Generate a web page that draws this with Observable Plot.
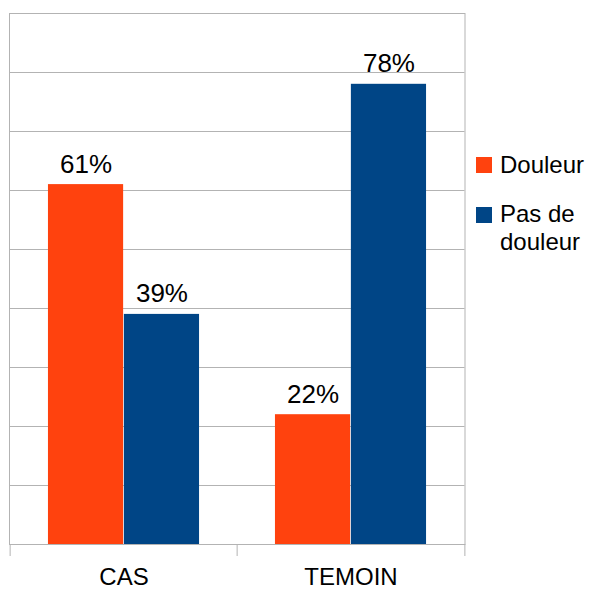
<!DOCTYPE html>
<html>
<head>
<meta charset="utf-8">
<script src="https://cdn.jsdelivr.net/npm/d3@7"></script>
<script src="https://cdn.jsdelivr.net/npm/@observablehq/plot@0.6"></script>
<style>
  html, body { margin: 0; padding: 0; background: #fff; }
  #wrap { position: relative; width: 589px; height: 589px; font-family: "Liberation Sans", Arial, sans-serif; }
  #chart { position: absolute; left: 0; top: 0; }
  .sw { position: absolute; width: 16px; height: 16px; }
  .lt { position: absolute; font-size: 24px; line-height: 28px; color: #000; white-space: nowrap; }
</style>
</head>
<body>
<div id="wrap"><div id="chart"></div></div>
<script>
const categories = ["CAS", "TEMOIN"];
const series = ["Douleur", "Pas de douleur"];
const douleur = [0.61, 0.22];
const pasDouleur = [0.39, 0.78];
const labelsDouleur = ["61%", "22%"];
const labelsPas = ["39%", "78%"];
const gridTicks = [0.1, 0.2, 0.3, 0.4, 0.5, 0.6, 0.7, 0.8];
const colors = ["#FF420E", "#004586"];

const rowsD = categories.map((c, i) => ({cat: c, value: douleur[i], label: labelsDouleur[i]}));
const rowsP = categories.map((c, i) => ({cat: c, value: pasDouleur[i], label: labelsPas[i]}));

const W = 470, H = 589, mL = 9, mR = 5.5, mT = 13, mB = 45;
const bw = (W - mL - mR) / categories.length;
const grid = "#b3b3b3";

const plot = Plot.plot({
  width: W,
  height: H,
  marginLeft: mL,
  marginRight: mR,
  marginTop: mT,
  marginBottom: mB,
  style: {fontFamily: "Liberation Sans, Arial, sans-serif", fontSize: "24px", color: "#000", background: "#fff"},
  x: {domain: categories, padding: 0, tickSize: 0, tickPadding: 23, label: null},
  y: {domain: [0, 0.9], axis: null},
  marks: [
    Plot.ruleY(gridTicks, {stroke: grid, strokeWidth: 1}),
    Plot.barY(rowsD, {x: "cat", y: "value", fill: colors[0], insetLeft: bw / 6, insetRight: bw / 2}),
    Plot.barY(rowsP, {x: "cat", y: "value", fill: colors[1], insetLeft: bw / 2, insetRight: bw / 6}),
    Plot.frame({stroke: grid, strokeWidth: 1}),
    Plot.ruleX(categories, {x: d => d, dx: -bw / 2, y1: 0, y2: 0, insetBottom: -12, stroke: grid}),
    Plot.ruleX(categories.slice(-1), {x: d => d, dx: bw / 2, y1: 0, y2: 0, insetBottom: -12, stroke: grid}),
    Plot.text(rowsD, {x: "cat", y: "value", text: "label", dx: -bw / 6, dy: -12, lineAnchor: "bottom", fontSize: 26, fill: "#000"}),
    Plot.text(rowsP, {x: "cat", y: "value", text: "label", dx: bw / 6, dy: -12, lineAnchor: "bottom", fontSize: 26, fill: "#000"})
  ]
});
document.getElementById("chart").appendChild(plot);

// Legend (HTML, right of the SVG)
const wrap = document.getElementById("wrap");
const legendItems = [
  {name: series[0], lines: ["Douleur"], color: colors[0], swTop: 157, textTop: 151},
  {name: series[1], lines: ["Pas de", "douleur"], color: colors[1], swTop: 207, textTop: 200}
];
legendItems.forEach(it => {
  const sw = document.createElement("div");
  sw.className = "sw";
  sw.style.left = "476px";
  sw.style.top = it.swTop + "px";
  sw.style.background = it.color;
  wrap.appendChild(sw);
  const t = document.createElement("div");
  t.className = "lt";
  t.style.left = "500px";
  t.style.top = it.textTop + "px";
  t.innerHTML = it.lines.join("<br>");
  wrap.appendChild(t);
});
</script>
</body>
</html>
